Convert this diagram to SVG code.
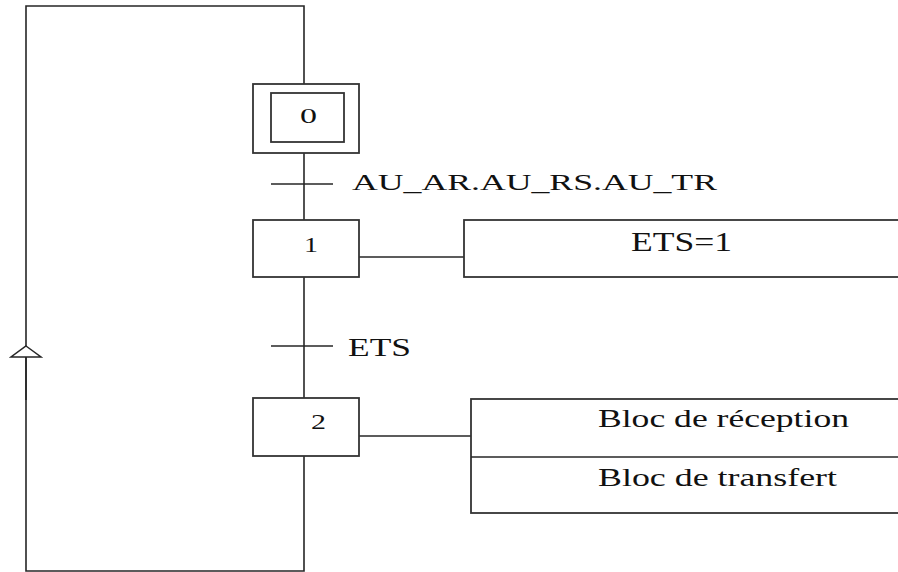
<svg xmlns="http://www.w3.org/2000/svg" width="898" height="572" viewBox="0 0 898 572">
<style>
.ln{fill:none;stroke:#262626;stroke-width:1.6}
.box{fill:#fff;stroke:#333;stroke-width:1.8}
.t{fill:#111}
</style>
<defs>
<marker id="up" markerWidth="34" markerHeight="14" refX="17" refY="1" orient="0" markerUnits="userSpaceOnUse" viewBox="0 0 34 14">
<path d="M17,1 L32,12 L2,12 Z" fill="#fff" stroke="#262626" stroke-width="1.5"/>
</marker>
</defs>
<rect width="898" height="572" fill="#fff"/>
<g id="connectors">
<path class="ln" d="M304,84 V6 H26 V571 H304 V456"/>
<path class="ln" d="M26,400 V346" marker-end="url(#up)"/>
<path class="ln" d="M304,153 V220"/>
<path class="ln" d="M304,277 V398"/>
<path class="ln" d="M359,257 H464"/>
<path class="ln" d="M359,436 H471"/>
</g>
<g font-family="Liberation Serif, DejaVu Serif, serif">
<g id="step0">
<rect class="box" x="253" y="84" width="106" height="69"/>
<rect class="box" x="271" y="93" width="73" height="49"/>
<text class="t" x="300" y="123" font-size="21" textLength="17" lengthAdjust="spacingAndGlyphs">0</text>
</g>
<g id="trans1">
<line class="ln" x1="271" y1="184" x2="333" y2="184"/>
<text class="t" x="352" y="190" font-size="23" textLength="365" lengthAdjust="spacingAndGlyphs">AU_AR.AU_RS.AU_TR</text>
</g>
<g id="step1">
<rect class="box" x="253" y="220" width="106" height="57"/>
<text class="t" x="304" y="252" font-size="22" textLength="14" lengthAdjust="spacingAndGlyphs">1</text>
</g>
<g id="action1">
<rect class="box" x="464" y="220" width="450" height="57"/>
<text class="t" x="631" y="251" font-size="27" textLength="101" lengthAdjust="spacingAndGlyphs">ETS=1</text>
</g>
<g id="trans2">
<line class="ln" x1="271" y1="346" x2="333" y2="346"/>
<text class="t" x="348" y="356" font-size="26" textLength="63" lengthAdjust="spacingAndGlyphs">ETS</text>
</g>
<g id="step2">
<rect class="box" x="253" y="398" width="106" height="58"/>
<text class="t" x="311" y="429" font-size="22" textLength="15" lengthAdjust="spacingAndGlyphs">2</text>
</g>
<g id="action2">
<rect class="box" x="471" y="399" width="450" height="114"/>
<line class="ln" x1="471" y1="457" x2="898" y2="457"/>
<text class="t" x="598" y="427" font-size="25" textLength="251" lengthAdjust="spacingAndGlyphs">Bloc de réception</text>
<text class="t" x="598" y="486" font-size="25" textLength="239" lengthAdjust="spacingAndGlyphs">Bloc de transfert</text>
</g>
</g>
</svg>
